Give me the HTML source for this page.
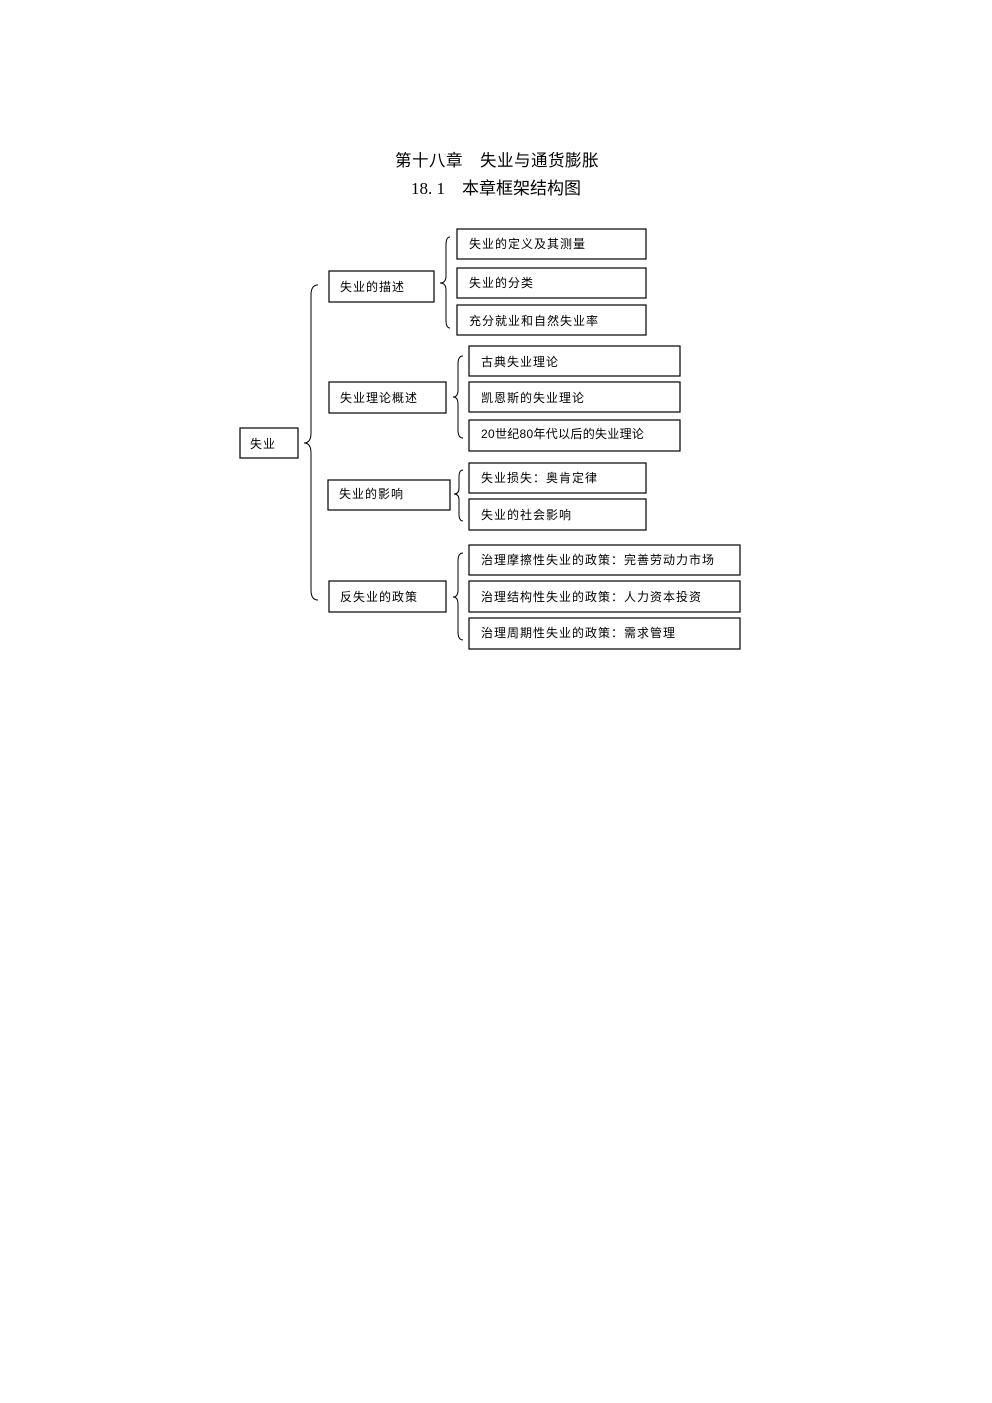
<!DOCTYPE html>
<html><head><meta charset="utf-8"><style>
html,body{margin:0;padding:0;background:#fff;}
svg{display:block;}
text{font-family:"Liberation Serif","Noto Sans CJK SC",sans-serif;fill:#000;}
.t{font-family:"Liberation Sans","Noto Sans CJK SC",sans-serif;font-size:12px;letter-spacing:1px;}
.h{font-family:"Liberation Serif","Noto Sans CJK SC",sans-serif;font-size:16.5px;}
rect{fill:#fff;stroke:#000;stroke-width:1.2;}
path{fill:none;stroke:#000;stroke-width:1;}
</style></head><body>
<svg width="992" height="1403" xmlns="http://www.w3.org/2000/svg">
<text class="h" x="497" y="166" text-anchor="middle" style="letter-spacing:0.5px">第十八章　失业与通货膨胀</text>
<text class="h" x="496" y="194" text-anchor="middle" style="font-size:17px">18. 1　本章框架结构图</text>

<path d="M318,285 Q311,285 311,295 L311,433 Q311,443 304,443 Q311,443 311,453 L311,590 Q311,600 318,600"/>
<path d="M450,237 Q446,237 446,245 L446,276 Q446,283 440,283 Q446,283 446,290 L446,320 Q446,328 450,328"/>
<path d="M463,356 Q458,356 458,364 L458,390 Q458,397 453,397 Q458,397 458,404 L458,430 Q458,438 463,438"/>
<path d="M463,470 Q459,470 459,477 L459,488 Q459,494 454,494 Q459,494 459,500 L459,514 Q459,521 463,521"/>
<path d="M463,553 Q458,553 458,561 L458,590 Q458,597 453,597 Q458,597 458,604 L458,632 Q458,640 463,640"/>

<rect x="240" y="428" width="58" height="30"/><text class="t" x="250" y="448">失业</text>

<rect x="329" y="271" width="105" height="31"/><text class="t" x="340" y="291">失业的描述</text>
<rect x="329" y="382" width="117" height="31"/><text class="t" x="340" y="402">失业理论概述</text>
<rect x="328" y="480" width="122" height="30"/><text class="t" x="339" y="498">失业的影响</text>
<rect x="329" y="581" width="117" height="31"/><text class="t" x="340" y="601">反失业的政策</text>

<rect x="457" y="229" width="189" height="30"/><text class="t" x="469" y="248">失业的定义及其测量</text>
<rect x="457" y="268" width="189" height="30"/><text class="t" x="469" y="287">失业的分类</text>
<rect x="457" y="305" width="189" height="30"/><text class="t" x="469" y="325">充分就业和自然失业率</text>

<rect x="469" y="346" width="211" height="30"/><text class="t" x="481" y="366">古典失业理论</text>
<rect x="469" y="382" width="211" height="30"/><text class="t" x="481" y="402">凯恩斯的失业理论</text>
<rect x="469" y="420" width="211" height="31"/><text class="t" x="481" y="438" style="letter-spacing:0.3px">20世纪80年代以后的失业理论</text>

<rect x="469" y="463" width="177" height="30"/><text class="t" x="481" y="482">失业损失：奥肯定律</text>
<rect x="469" y="499" width="177" height="31"/><text class="t" x="481" y="519">失业的社会影响</text>

<rect x="469" y="545" width="271" height="30"/><text class="t" x="481" y="564">治理摩擦性失业的政策：完善劳动力市场</text>
<rect x="469" y="581" width="271" height="31"/><text class="t" x="481" y="601">治理结构性失业的政策：人力资本投资</text>
<rect x="469" y="618" width="271" height="31"/><text class="t" x="481" y="637">治理周期性失业的政策：需求管理</text>
</svg>
</body></html>
